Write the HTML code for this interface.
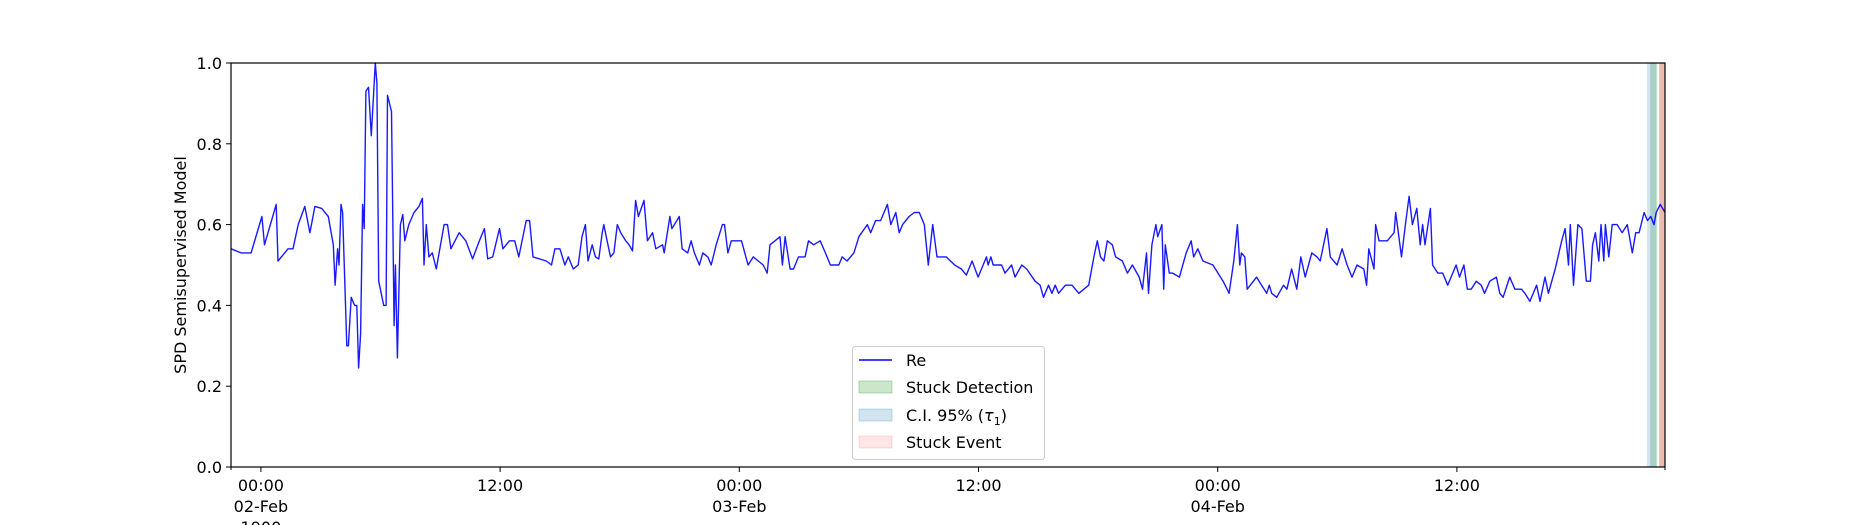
<!DOCTYPE html>
<html><head><meta charset="utf-8"><style>
html,body{margin:0;padding:0;background:#fff;}
svg{display:block;font-family:"DejaVu Sans","Liberation Sans",sans-serif;}
</style></head><body>
<svg id="chart" width="1850" height="525" viewBox="0 0 1850 525" xmlns="http://www.w3.org/2000/svg">
<rect width="1850" height="525" fill="#fff"/>
<g id="spans"></g>
<g id="plot"></g>
<g id="axes"></g>
</svg>
<script>
const hours = [-1.5,-1.0,-0.49,0.05,0.18,0.77,0.86,1.36,1.61,1.87,2.2,2.46,2.71,3.05,3.38,3.63,3.72,3.85,3.92,4.02,4.1,4.31,4.39,4.53,4.7,4.81,4.9,5.0,5.1,5.18,5.27,5.4,5.54,5.74,5.82,5.91,6.16,6.28,6.35,6.55,6.68,6.75,6.85,7.0,7.12,7.22,7.42,7.68,7.93,8.1,8.18,8.3,8.43,8.6,8.8,8.94,9.19,9.36,9.53,9.95,10.28,10.62,10.96,11.21,11.38,11.63,11.97,12.14,12.47,12.73,12.94,13.31,13.48,13.65,14.32,14.58,14.75,15.0,15.25,15.42,15.67,15.92,
16.11,16.28,16.41,16.62,16.78,16.95,17.12,17.2,17.37,17.54,17.71,17.88,18.05,18.3,18.47,18.64,18.8,18.94,19.22,19.39,19.65,19.81,20.15,20.23,20.52,20.62,20.99,21.13,21.41,21.58,21.75,22.0,22.17,22.42,22.59,22.84,23.15,23.26,23.43,23.6,23.85,24.11,24.44,24.7,24.95,25.2,25.4,25.54,25.79,26.04,26.16,26.3,26.55,26.72,26.97,27.3,27.47,27.73,28.06,28.32,28.57,28.82,28.99,29.16,29.41,29.75,30.0,30.42,30.59,30.84,31.09,31.43,31.6,31.85,32.02,32.19,32.52,32.78,33.03,33.28,33.48,33.7,
33.92,34.38,34.8,35.14,35.39,35.68,35.98,36.4,36.48,36.62,36.74,37.16,37.33,37.66,37.83,38.17,38.42,38.84,39.09,39.26,39.51,39.68,39.85,40.02,40.36,40.69,41.03,41.53,41.79,41.96,42.12,42.29,42.46,42.71,42.88,43.22,43.47,43.72,44.06,44.23,44.43,44.53,44.7,44.9,44.99,45.2,45.29,45.37,45.57,45.74,46.08,46.42,46.67,46.79,47.0,47.26,47.76,48.27,48.57,48.81,48.99,49.11,49.19,49.36,49.48,49.95,50.2,50.46,50.59,50.71,50.96,51.3,51.47,
51.71,51.97,52.17,52.39,52.72,52.98,53.14,53.48,53.65,53.99,54.24,54.49,54.74,54.99,55.33,55.47,55.58,55.84,55.92,56.09,56.51,56.85,56.93,57.22,57.44,57.6,57.77,57.99,58.16,58.28,58.4,58.67,58.78,59.04,59.29,59.54,59.96,60.13,60.35,60.52,60.72,60.97,61.22,61.39,61.65,61.98,62.15,62.32,62.65,62.91,63.24,63.41,63.66,64.0,64.17,64.42,64.59,64.93,65.26,65.43,65.6,65.69,65.85,66.07,66.27,66.49,66.7,66.81,66.95,67.12,67.23,67.37,67.45,67.62,67.79,68.04,68.29,68.55,68.8,68.97,69.14,69.39,69.56,69.73,69.89,70.0,70.2,70.44];
const values = [0.54,0.53,0.53,0.62,0.55,0.65,0.51,0.54,0.54,0.6,0.645,0.58,0.645,0.64,0.62,0.55,0.45,0.54,0.5,0.65,0.63,0.3,0.3,0.42,0.4,0.4,0.245,0.33,0.65,0.59,0.93,0.94,0.82,1.0,0.95,0.46,0.4,0.4,0.92,0.88,0.35,0.5,0.27,0.6,0.625,0.56,0.6,0.63,0.645,0.665,0.5,0.6,0.52,0.53,0.49,0.53,0.6,0.6,0.54,0.58,0.56,0.515,0.56,0.59,0.515,0.52,0.59,0.54,0.56,0.56,0.52,0.61,0.61,0.52,0.51,0.5,0.54,0.54,0.5,0.52,0.49,0.5,
0.57,0.6,0.51,0.55,0.52,0.515,0.58,0.6,0.56,0.52,0.53,0.6,0.58,0.56,0.55,0.535,0.66,0.62,0.66,0.56,0.58,0.54,0.55,0.53,0.62,0.59,0.62,0.54,0.53,0.56,0.53,0.5,0.53,0.52,0.5,0.55,0.6,0.6,0.53,0.56,0.56,0.56,0.5,0.52,0.51,0.5,0.48,0.55,0.56,0.57,0.5,0.57,0.49,0.49,0.52,0.52,0.56,0.55,0.56,0.53,0.5,0.5,0.5,0.52,0.51,0.53,0.57,0.6,0.58,0.61,0.61,0.65,0.6,0.63,0.58,0.6,0.62,0.63,0.63,0.6,0.5,0.6,
0.52,0.52,0.5,0.49,0.475,0.51,0.47,0.52,0.5,0.52,0.5,0.5,0.48,0.5,0.47,0.5,0.49,0.46,0.45,0.42,0.45,0.43,0.45,0.43,0.45,0.45,0.43,0.45,0.52,0.56,0.52,0.51,0.56,0.55,0.52,0.51,0.48,0.5,0.47,0.44,0.53,0.43,0.55,0.6,0.57,0.6,0.44,0.55,0.48,0.48,0.47,0.53,0.56,0.52,0.54,0.51,0.5,0.46,0.43,0.51,0.6,0.5,0.53,0.52,0.44,0.47,0.45,0.43,0.45,0.43,0.42,0.45,0.44,
0.49,0.44,0.52,0.47,0.53,0.52,0.51,0.59,0.52,0.5,0.54,0.5,0.47,0.5,0.49,0.45,0.54,0.49,0.6,0.56,0.56,0.58,0.63,0.52,0.61,0.67,0.6,0.64,0.55,0.6,0.55,0.64,0.5,0.48,0.48,0.45,0.5,0.47,0.5,0.44,0.44,0.46,0.45,0.43,0.46,0.47,0.43,0.42,0.47,0.44,0.44,0.43,0.41,0.45,0.41,0.47,0.43,0.49,0.56,0.59,0.5,0.6,0.45,0.6,0.59,0.46,0.46,0.55,0.58,0.51,0.6,0.51,0.6,0.52,0.6,0.6,0.58,0.6,0.53,0.58,0.58,0.63,0.61,0.62,0.6,0.63,0.65,0.63];
const spanStarts = [69.7, 69.54, 70.15];
const spanEnds = [70.05, 70.0, 70.44];
const spanNames = ["stuck-detection-span","ci-95-span","stuck-event-span"];
const xTickHours = [0,12,24,36,48,60];
const xTickLabels = ["00:00","12:00","00:00","12:00","00:00","12:00"];
const xTickDates = ["02-Feb","","03-Feb","","04-Feb",""];
const yTicks = [0,0.2,0.4,0.6,0.8,1.0];

const L=231,R=1665,T=63,B=467,H0=-1.5,H1=70.44;
const NS="http://www.w3.org/2000/svg";
const xs=h=>L+(h-H0)/(H1-H0)*(R-L);
const ys=v=>B-v*(B-T);
function mk(tag,attrs,parent){const e=document.createElementNS(NS,tag);for(const k in attrs)e.setAttribute(k,attrs[k]);parent.appendChild(e);return e;}
const spans=document.getElementById('spans'),plot=document.getElementById('plot'),axes=document.getElementById('axes');
const spanFill=["rgba(0,128,0,0.2)","rgba(31,119,180,0.2)","rgba(200,60,30,0.35)"];
for(let i=0;i<spanStarts.length;i++){
  const r=mk('rect',{x:xs(spanStarts[i]),y:T,width:xs(spanEnds[i])-xs(spanStarts[i]),height:B-T,fill:spanFill[i]},spans);
  
  
}
let d='';
for(let i=0;i<hours.length;i++){d+=(i?'L':'M')+xs(hours[i]).toFixed(1)+' '+ys(values[i]).toFixed(1);}
const line=mk('path',{d:d,fill:'none',stroke:'#0000ff','stroke-width':1.4,'stroke-opacity':0.9,'stroke-linejoin':'round'},plot);


const frame=mk('rect',{x:L,y:T,width:R-L,height:B-T,fill:'none',stroke:'#000','stroke-width':1.2},axes);


for(const v of yTicks){
  mk('line',{x1:L-5,x2:L,y1:ys(v),y2:ys(v),stroke:'#000','stroke-width':1},axes);
  const t=mk('text',{x:L-9,y:ys(v)+6,'text-anchor':'end','font-size':16,fill:'#000'},axes);
  t.textContent=v.toFixed(1);
  
  
}
for(let i=0;i<xTickHours.length;i++){
  const x=xs(xTickHours[i]);
  mk('line',{x1:x,x2:x,y1:B,y2:B+5,stroke:'#000','stroke-width':1},axes);
  const t=mk('text',{x:x,y:B+24,'text-anchor':'middle','font-size':16,fill:'#000'},axes);
  t.textContent=xTickLabels[i];
  
  
  if(xTickDates[i]){
    const t2=mk('text',{x:x,y:B+45,'text-anchor':'middle','font-size':16,fill:'#000'},axes);
    t2.textContent=xTickDates[i];
    
    
  }
}
const yr=mk('text',{x:xs(0),y:B+66,'text-anchor':'middle','font-size':16,fill:'#000'},axes);
yr.textContent='1900';


for(const x of [L,R]) mk('line',{x1:x,x2:x,y1:B,y2:B+3,stroke:'#000','stroke-width':1},axes);
const yl=mk('text',{x:0,y:0,transform:'translate(186,265) rotate(-90)','text-anchor':'middle','font-size':16,fill:'#000'},axes);
yl.textContent='SPD Semisupervised Model';


</script>
<svg style="position:absolute;left:852px;top:346px;font-family:'DejaVu Sans','Liberation Sans',sans-serif" width="194" height="115" xmlns="http://www.w3.org/2000/svg">
<rect x="0.5" y="0.5" width="192" height="113" rx="3" fill="#fff" fill-opacity="0.8" stroke="#ccc"/>
<line x1="7" x2="40" y1="14" y2="14" stroke="#0000ff" stroke-width="1.4"/>
<text x="54" y="20" font-size="16">Re</text>
<rect x="7" y="35" width="33" height="12" fill="rgba(0,128,0,0.2)" stroke="rgba(0,128,0,0.25)"/>
<text x="54" y="47" font-size="16">Stuck Detection</text>
<rect x="7" y="63" width="33" height="12" fill="rgba(31,119,180,0.2)" stroke="rgba(31,119,180,0.25)"/>
<text x="54" y="75" font-size="16">C.I. 95% (<tspan font-style="italic">τ</tspan><tspan font-size="11" dy="4">1</tspan><tspan dy="-4">)</tspan></text>
<rect x="7" y="90" width="33" height="12" fill="rgba(255,0,0,0.1)" stroke="rgba(255,0,0,0.12)"/>
<text x="54" y="102" font-size="16">Stuck Event</text>
</svg>
</body></html>
